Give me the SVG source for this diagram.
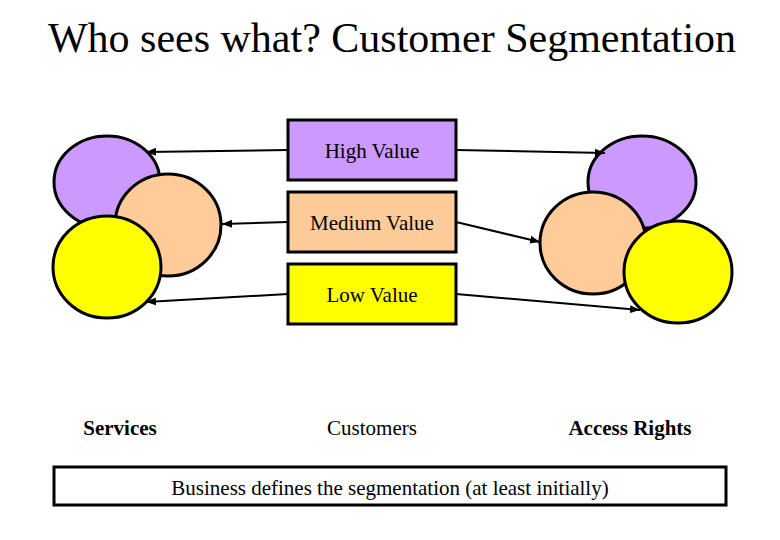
<svg xmlns="http://www.w3.org/2000/svg" width="780" height="540" viewBox="0 0 780 540">
<style>
text{font-family:"Liberation Serif","Times New Roman",serif;fill:#000}
.n{stroke:#000;stroke-width:3}
.c{stroke:#000;stroke-width:2;fill:none;marker-end:url(#a)}
.l{font-size:21px;text-anchor:middle}
</style>
<defs><marker id="a" viewBox="0 0 10 10" refX="10" refY="5" markerWidth="5" markerHeight="5" orient="auto"><path d="M0,1 L10,5 L0,9 z" fill="#000"/></marker></defs>
<rect width="780" height="540" fill="#fff"/>
<text x="392" y="52" font-size="42" text-anchor="middle">Who sees what? Customer Segmentation</text>
<g id="services">
<ellipse class="n" cx="107" cy="182" rx="53" ry="46" fill="#cc99ff"/>
<ellipse class="n" cx="168" cy="225" rx="53" ry="51" fill="#ffcc99"/>
<ellipse class="n" cx="107" cy="267" rx="54" ry="51" fill="#ffff00"/>
</g>
<g id="access">
<ellipse class="n" cx="642" cy="182" rx="54" ry="46" fill="#cc99ff"/>
<ellipse class="n" cx="593" cy="243" rx="53" ry="51" fill="#ffcc99"/>
<ellipse class="n" cx="678" cy="272" rx="54" ry="51" fill="#ffff00"/>
</g>
<g id="high"><rect class="n" x="288" y="120" width="168" height="60" fill="#cc99ff"/><text class="l" x="372" y="158">High Value</text></g>
<g id="medium"><rect class="n" x="288" y="192" width="168" height="60" fill="#ffcc99"/><text class="l" x="372" y="230">Medium Value</text></g>
<g id="low"><rect class="n" x="288" y="264" width="168" height="60" fill="#ffff00"/><text class="l" x="372" y="302">Low Value</text></g>
<g id="connectors">
<line class="c" x1="288" y1="150" x2="146" y2="152"/>
<line class="c" x1="288" y1="222" x2="222" y2="224"/>
<line class="c" x1="288" y1="294" x2="146" y2="302"/>
<line class="c" x1="456" y1="150" x2="605" y2="153"/>
<line class="c" x1="456" y1="222" x2="540" y2="242"/>
<line class="c" x1="456" y1="294" x2="640" y2="310"/>
</g>
<text x="120" y="435" font-size="21" font-weight="bold" text-anchor="middle">Services</text>
<text x="372" y="435" font-size="21" text-anchor="middle">Customers</text>
<text x="630" y="435" font-size="21" font-weight="bold" text-anchor="middle">Access Rights</text>
<g id="note"><rect x="54" y="467" width="672" height="38" fill="#fff" stroke="#000" stroke-width="3"/><text class="l" x="390" y="495">Business defines the segmentation (at least initially)</text></g>
</svg>
